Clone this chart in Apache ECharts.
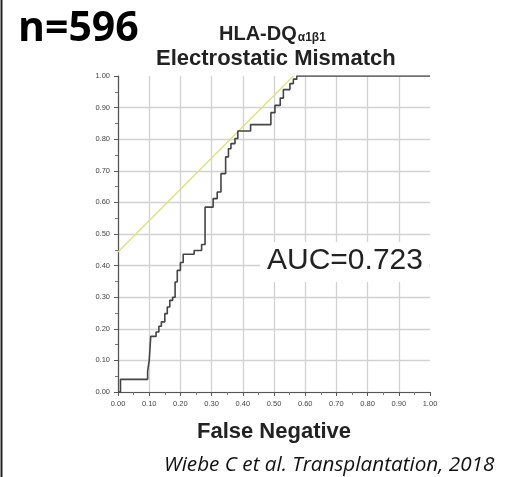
<!DOCTYPE html>
<html>
<head>
<meta charset="utf-8">
<script src="https://cdn.jsdelivr.net/npm/echarts@6/dist/echarts.min.js"></script>
<style>
html,body{margin:0;padding:0;background:#fff;}
#chart{width:508px;height:477px;}
</style>
</head>
<body>
<div id="chart"></div>
<script>
// ROC curve vertices (False Negative axis value, sensitivity after each jump)
const rocX = [0, 0.008, 0.095, 0.100, 0.105, 0.122, 0.131, 0.139, 0.150, 0.158, 0.166, 0.175, 0.183, 0.190, 0.200, 0.209, 0.244, 0.268, 0.279, 0.305, 0.318, 0.330, 0.345, 0.354, 0.362, 0.375, 0.384, 0.425, 0.490, 0.503, 0.520, 0.530, 0.551, 0.562, 0.573, 1.0];
const rocY = [0, 0.040, 0.065, 0.100, 0.176, 0.190, 0.208, 0.222, 0.248, 0.269, 0.290, 0.300, 0.348, 0.385, 0.410, 0.436, 0.448, 0.467, 0.585, 0.612, 0.633, 0.691, 0.744, 0.770, 0.786, 0.802, 0.826, 0.846, 0.884, 0.907, 0.930, 0.957, 0.976, 0.990, 1.0, 1.0];
// tangent (Youden) line
const tanX = [0, 0.562];
const tanY = [0.443, 1.0];
const aucText = 'AUC=0.723';
const sampleText = 'n=596';
const titleMain = 'HLA-DQ';
const titleSub = 'α1β1';
const titleLine2 = 'Electrostatic Mismatch';
const xName = 'False Negative';
const citation = 'Wiebe C et al. Transplantation, 2018';

const chart = echarts.init(document.getElementById('chart'));
const axisCommon = {
  type: 'value', min: 0, max: 1, interval: 0.1,
  axisLine: {show: true, lineStyle: {color: '#555', width: 1.2}},
  axisTick: {show: true, length: 4, lineStyle: {color: '#555'}},
  minorTick: {show: true, splitNumber: 2, length: 3, lineStyle: {color: '#777'}},
  axisLabel: {fontFamily: 'Liberation Sans', fontSize: 7.5, color: '#444', formatter: v => v.toFixed(2)},
  splitLine: {show: true, showMaxLine: false, lineStyle: {color: '#d2d2d2', width: 1.3}}
};
chart.setOption({
  animation: false,
  backgroundColor: '#fff',
  grid: {left: 118, right: 78, top: 76, bottom: 85},
  title: [
    {text: sampleText, left: 13, top: 4, textStyle: {fontFamily: 'Open Sans', fontWeight: 'bold', fontSize: 41, color: '#000'}},
    {text: '{a|' + titleMain + '}{b|' + titleSub + '}', left: 214, top: 19,
     textStyle: {rich: {a: {fontFamily: 'Liberation Sans', fontWeight: 'bold', fontSize: 20, color: '#222'},
                        b: {fontFamily: 'Liberation Sans', fontWeight: 'bold', fontSize: 12, color: '#222', padding: [8, 0, 0, 1]}}}},
    {text: titleLine2, left: 151, top: 43, textStyle: {fontFamily: 'Liberation Sans', fontWeight: 'bold', fontSize: 22, color: '#222'}},
    {text: aucText, left: 260, top: 242, padding: [4, 6, 6, 7], backgroundColor: '#fff',
     textStyle: {fontFamily: 'Liberation Sans', fontWeight: 'normal', fontSize: 30, color: '#222'}},
    {text: citation, left: 159, top: 450, textStyle: {fontFamily: 'Open Sans', fontStyle: 'italic', fontWeight: 'normal', fontSize: 20.7, color: '#111'}}
  ],
  xAxis: Object.assign({}, axisCommon, {
    name: xName, nameLocation: 'middle', nameGap: 29,
    nameTextStyle: {fontFamily: 'Liberation Sans', fontWeight: 'bold', fontSize: 22, color: '#222'},
    axisLabel: Object.assign({}, axisCommon.axisLabel, {margin: 8})
  }),
  yAxis: Object.assign({}, axisCommon, {
    axisLabel: Object.assign({}, axisCommon.axisLabel, {margin: 8})
  }),
  graphic: [
    {type: 'line', shape: {x1: 1.5, y1: 0, x2: 1.5, y2: 477}, style: {stroke: '#222', lineWidth: 2}}
  ],
  series: [
    {type: 'line', data: tanX.map((x, i) => [x, tanY[i]]), symbol: 'none',
     lineStyle: {color: '#e3dc82', width: 1.3}, z: 3},
    {type: 'line', step: 'end', data: rocX.map((x, i) => [x, rocY[i]]), symbol: 'none',
     lineStyle: {color: '#444', width: 1.6}, z: 4}
  ]
});
</script>
</body>
</html>
